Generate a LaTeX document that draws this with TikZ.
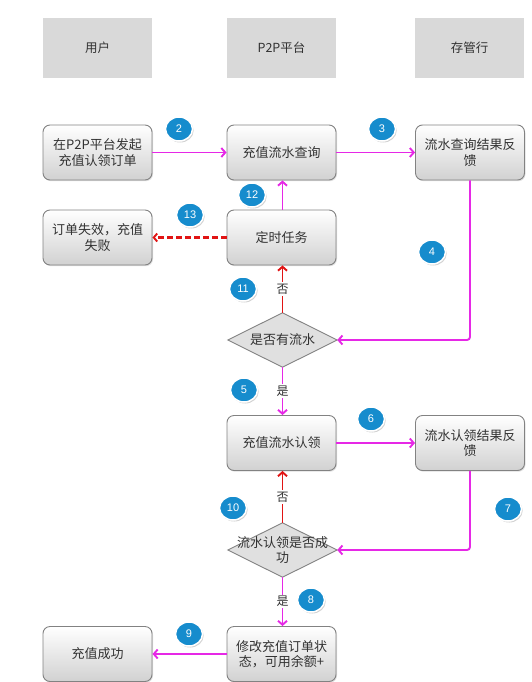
\documentclass[tikz,border=0pt]{standalone}
\usepackage{fontspec}
\setmainfont{Noto Sans CJK SC}
\newfontfamily\numfont{Liberation Sans}
\usetikzlibrary{arrows.meta,shapes.geometric,shadows,backgrounds}
\definecolor{mag}{RGB}{230,40,230}
\definecolor{redl}{RGB}{225,20,20}
\definecolor{circblue}{RGB}{22,140,205}
\definecolor{txt}{RGB}{50,50,50}
\definecolor{hdr}{RGB}{217,217,217}
\definecolor{bord}{RGB}{130,130,130}
\tikzset{
  hdrbox/.style={fill=hdr, minimum width=109pt, minimum height=60pt, inner sep=0pt, font=\fontsize{12.5}{14}\selectfont, text=txt},
  stepbox/.style={draw=bord, line width=0.9pt, rounded corners=7pt, top color=white, bottom color=black!18, minimum width=109pt, minimum height=55pt, inner sep=1pt, align=center, font=\fontsize{13}{15.5}\selectfont, text=txt, drop shadow={opacity=0.25, shadow xshift=1pt, shadow yshift=-1.2pt}},
  decbox/.style={minimum width=109pt, minimum height=54pt, inner sep=0pt, align=center, font=\fontsize{13}{15.5}\selectfont, text=txt},
  decshape/.style={draw=bord, line width=0.9pt, fill=black!12},
  num/.style={ellipse, fill=circblue, draw=white, line width=1.5pt, minimum width=27pt, minimum height=24pt, inner sep=0pt, text=white, font=\numfont\fontsize{11}{13}\selectfont, drop shadow={opacity=0.35, shadow xshift=1.2pt, shadow yshift=-1.5pt}},
  magarr/.style={draw=mag, line width=1.9pt, -{Straight Barb[length=4pt,width=9pt]}},
  redarr/.style={draw=redl, line width=1.9pt, -{Straight Barb[length=4pt,width=9pt]}},
  lbl/.style={fill=white, inner sep=1.5pt, font=\fontsize{12}{14}\selectfont, text=txt}
}
\begin{document}
\begin{tikzpicture}[x=1pt,y=-1pt]
\useasboundingbox (0,0) rectangle (531,682);
% headers
\node[hdrbox] (hU) at (97.5,48) {用户};
\node[hdrbox] (hP) at (281.5,48) {P2P平台};
\node[hdrbox] (hB) at (469.5,48) {存管行};
% boxes
\node[stepbox] (start) at (97.5,152.5) {在P2P平台发起\\充值认领订单};
\node[stepbox] (query) at (281.5,152.5) {充值流水查询};
\node[stepbox] (qres) at (470,152.5) {流水查询结果反\\馈};
\node[stepbox] (fail) at (97.5,237.5) {订单失效，充值\\失败};
\node[stepbox] (timer) at (281.5,237.5) {定时任务};
\node[decbox] (d1) at (282.5,340) {是否有流水};
\node[stepbox] (claim) at (281.5,443) {充值流水认领};
\node[stepbox] (cres) at (470,443) {流水认领结果反\\馈};
\node[decbox] (d2) at (282.5,550) {流水认领是否成\\功};
\node[stepbox] (modify) at (281.5,654) {修改充值订单状\\态，可用余额+};
\node[stepbox] (success) at (97.5,654) {充值成功};
\begin{scope}[on background layer]
\draw[decshape] (d1.west) -- (d1.north) -- (d1.east) -- (d1.south) -- cycle;
\draw[decshape] (d2.west) -- (d2.north) -- (d2.east) -- (d2.south) -- cycle;
\end{scope}
% connectors
\draw[magarr] (start.east) -- (query.west);
\draw[magarr] (query.east) -- (qres.west);
\draw[magarr, rounded corners=3pt] (qres.south) -- (qres.south |- d1.east) -- (d1.east);
\draw[redarr] (d1.north) -- node[lbl] {否} (d1.north |- timer.south);
\draw[magarr] (timer.north -| d1.north) -- (query.south -| d1.north);
\draw[redarr, line width=2.4pt, dash pattern=on 6pt off 3pt, -{Straight Barb[length=3.5pt,width=8pt,line width=1.9pt]}] (timer.west) -- (fail.east);
\draw[magarr] (d1.south) -- node[lbl] {是} (d1.south |- claim.north);
\draw[magarr] (claim.east) -- (cres.west);
\draw[magarr, rounded corners=3pt] (cres.south) -- (cres.south |- d2.east) -- (d2.east);
\draw[redarr] (d2.north) -- node[lbl] {否} (d2.north |- claim.south);
\draw[magarr] (d2.south) -- node[lbl] {是} (d2.south |- modify.north);
\draw[magarr] (modify.west) -- (success.east);
% step numbers
\node[num] (n2) at (179,129) {2};
\node[num] (n3) at (382,129) {3};
\node[num] (n12) at (252,195) {12};
\node[num] (n13) at (190,215) {13};
\node[num] (n4) at (432,252) {4};
\node[num] (n11) at (243,289) {11};
\node[num] (n5) at (244,390) {5};
\node[num] (n6) at (371,419) {6};
\node[num] (n10) at (233,508) {10};
\node[num] (n7) at (508,509) {7};
\node[num] (n8) at (311,600) {8};
\node[num] (n9) at (189,634) {9};
\end{tikzpicture}
\end{document}
